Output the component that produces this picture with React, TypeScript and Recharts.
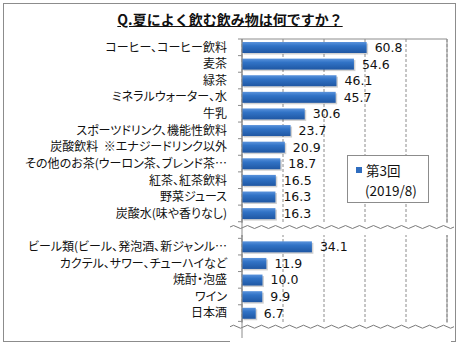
import React from "react";
import {
  BarChart,
  Bar,
  XAxis,
  YAxis,
  CartesianGrid,
  LabelList,
  Legend,
  ReferenceLine,
  ReferenceArea,
} from "recharts";

// ---- data ----
const titleText = "Q.夏によく飲む飲み物は何ですか？";
const seriesName = "第3回";
const seriesPeriod = "(2019/8)";

const drinkLabels = [
  "コーヒー、コーヒー飲料",
  "麦茶",
  "緑茶",
  "ミネラルウォーター、水",
  "牛乳",
  "スポーツドリンク、機能性飲料",
  "炭酸飲料  ※エナジードリンク以外",
  "その他のお茶(ウーロン茶、ブレンド茶…",
  "紅茶、紅茶飲料",
  "野菜ジュース",
  "炭酸水(味や香りなし)",
];
const drinkValues = [60.8, 54.6, 46.1, 45.7, 30.6, 23.7, 20.9, 18.7, 16.5, 16.3, 16.3];

const alcoholLabels = [
  "ビール類(ビール、発泡酒、新ジャンル…",
  "カクテル、サワー、チューハイなど",
  "焼酎・泡盛",
  "ワイン",
  "日本酒",
];
const alcoholValues = [34.1, 11.9, 10.0, 9.9, 6.7];

const xTicks = [0, 20, 40, 60, 80, 100];
const breakKeys = ["break-1", "break-2"];

type Row = { name: string; value: number | null };
const rows: Row[] = [
  ...drinkLabels.map((name, i) => ({ name, value: drinkValues[i] })),
  { name: breakKeys[0], value: null },
  ...alcoholLabels.map((name, i) => ({ name, value: alcoholValues[i] })),
  { name: breakKeys[1], value: null },
];

const JP_FONT = '"Noto Sans CJK JP", "Noto Sans", sans-serif';
const NUM_FONT = '"DejaVu Sans", Verdana, sans-serif';
const GRID = "#8c8c8c";

const CategoryTick = (props: any) => {
  const { x, y, payload } = props;
  const name: string = payload.value;
  const half = payload.offset ?? 0;
  const label = breakKeys.includes(name) ? "" : name;
  return (
    <g>
      <line x1={x + 11} x2={x + 15} y1={y - half} y2={y - half} stroke={GRID} />
      <text
        x={x}
        y={y}
        dy="0.36em"
        textAnchor="end"
        fill="#111"
        style={{ fontFamily: JP_FONT, fontSize: 12, whiteSpace: "pre", fontFeatureSettings: '"palt"' }}
      >
        {label}
      </text>
    </g>
  );
};

const BarShape = (props: any) => {
  const { x, y, width, height } = props;
  if (!width || !height) return null;
  return (
    <g>
      <rect x={x + 1.5} y={y + 1.5} width={width} height={height} fill="#000" opacity={0.18} />
      <rect x={x} y={y} width={width} height={height} fill="url(#barGrad)" />
    </g>
  );
};

const makeBreak = (below: number) => (props: any) => {
  const { x1, y1, x2 } = props;
  const start = Math.min(x1, x2) - 12;
  const end = Math.max(x1, x2) + 4;
  const wy = y1 - 3;
  let d = `M ${start} ${wy}`;
  const period = 14;
  for (let px = start; px < end; px += period / 2) {
    const k = Math.round((px - start) / (period / 2));
    const cy = wy + (k % 2 === 0 ? -3 : 3);
    d += ` Q ${px + period / 4} ${cy} ${px + period / 2} ${wy}`;
  }
  return (
    <g>
      <rect x={start} y={y1 - 7} width={end - start} height={7 + below} fill="#fff" />
      <path d={d} fill="none" stroke="#7a7a7a" strokeWidth={1} />
    </g>
  );
};

const LegendBox = () => (
  <div
    style={{
      border: "1px solid #8c8c8c",
      background: "#fff",
      width: 80,
      height: 42,
      boxSizing: "content-box",
      fontFamily: JP_FONT,
      fontSize: 13.5,
      color: "#111",
      lineHeight: "20px",
      paddingTop: 4,
    }}
  >
    <div style={{ display: "flex", alignItems: "center", paddingLeft: 8 }}>
      <span style={{ display: "inline-block", width: 6, height: 6, background: "#2f6dbf", marginRight: 4 }} />
      <span>{seriesName}</span>
    </div>
    <div style={{ paddingLeft: 17 }}>{seriesPeriod}</div>
  </div>
);

export default function App() {
  return (
    <div style={{ position: "absolute", left: 0, top: 0, width: 460, height: 345, background: "#fff" }}>
      <div
        style={{
          position: "absolute",
          left: 3,
          top: 3,
          width: 451,
          height: 337,
          border: "1.5px solid #8c8c8c",
        }}
      />
      <div
        style={{
          position: "absolute",
          left: 0,
          top: 9,
          width: 460,
          textAlign: "center",
          fontFamily: JP_FONT,
          fontWeight: 700,
          fontSize: 14,
          textDecoration: "underline",
          color: "#111",
        }}
      >
        {titleText}
      </div>
      <div style={{ position: "absolute", left: 0, top: 0 }}>
        <BarChart
          width={460}
          height={345}
          data={rows}
          layout="vertical"
          margin={{ top: 39, right: 13, bottom: 7, left: 0 }}
          barSize={11}
        >
          <defs>
            <linearGradient id="barGrad" x1="0" y1="0" x2="0" y2="1">
              <stop offset="0%" stopColor="#5a93dc" />
              <stop offset="35%" stopColor="#3173c6" />
              <stop offset="100%" stopColor="#1f57a3" />
            </linearGradient>
          </defs>
          <CartesianGrid horizontal={false} stroke={GRID} strokeDasharray="3 2" />
          <XAxis type="number" domain={[0, 100]} ticks={xTicks} hide />
          <YAxis
            type="category"
            dataKey="name"
            width={242}
            tickSize={0}
            tickMargin={15}
            tickLine={false}
            axisLine={{ stroke: GRID }}
            tick={<CategoryTick />}
            interval={0}
          />
          <ReferenceArea x1={0} x2={100} fill="none" stroke={GRID} ifOverflow="extendDomain" />
          <Bar dataKey="value" name={seriesName} shape={<BarShape />} isAnimationActive={false}>
            <LabelList
              dataKey="value"
              position="right"
              offset={8}
              formatter={(v: any) => (v == null ? "" : Number(v).toFixed(1))}
              style={{ fontFamily: NUM_FONT, fontSize: 12.5, fill: "#111" }}
            />
          </Bar>
          <ReferenceLine y={breakKeys[0]} stroke="none" shape={makeBreak(5)} />
          <ReferenceLine y={breakKeys[1]} stroke="none" shape={makeBreak(14)} />
          <Legend
            layout="horizontal"
            verticalAlign="middle"
            align="center"
            content={<LegendBox />}
            wrapperStyle={{ position: "absolute", left: 347, top: 155, width: 82, height: 46 }}
          />
        </BarChart>
      </div>
    </div>
  );
}
